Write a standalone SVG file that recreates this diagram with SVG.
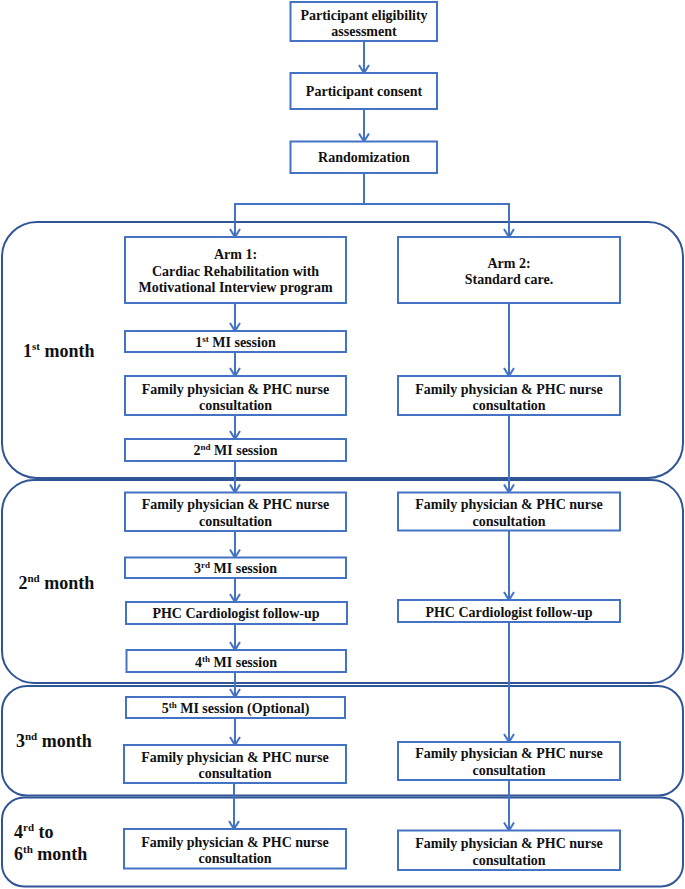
<svg xmlns="http://www.w3.org/2000/svg" width="685" height="889" viewBox="0 0 685 889">
<defs>
<style>
.panel{fill:none;stroke:#2F5597;stroke-width:2}
.box{fill:#fff;stroke:#4472C4;stroke-width:2}
.t{font-family:"Liberation Serif","Times New Roman",serif;font-weight:bold;font-size:14px;fill:#111;text-anchor:middle}
.lbl{font-family:"Liberation Serif","Times New Roman",serif;font-weight:bold;font-size:18px;fill:#111}
.c{fill:none;stroke:#4472C4;stroke-width:2}
.a{marker-end:url(#arr)}
</style>
<marker id="arr" markerUnits="userSpaceOnUse" markerWidth="12" markerHeight="12" viewBox="0 0 12 12" refX="10" refY="6" orient="auto">
<path d="M2,1 L10,6 L2,11" fill="none" stroke="#4472C4" stroke-width="2"/>
</marker>
</defs>
<rect width="685" height="889" fill="#fff"/>

<g id="panels">
<rect id="panel1" class="panel" x="2" y="222" width="681" height="256" rx="35" ry="35"/>
<rect id="panel2" class="panel" x="2" y="480" width="681" height="203" rx="32" ry="32"/>
<rect id="panel3" class="panel" x="2" y="686" width="681" height="109.5" rx="25" ry="25"/>
<rect id="panel4" class="panel" x="2" y="797.5" width="681" height="89" rx="22" ry="22"/>
</g>

<g id="connectors">
<line class="c a" x1="364" y1="41" x2="364" y2="73"/>
<line class="c a" x1="364" y1="109" x2="364" y2="141.5"/>
<polyline class="c" points="364,173 364,204"/>
<polyline class="c a" points="364,204 235,204 235,237"/>
<polyline class="c a" points="364,204 509,204 509,237"/>
<line class="c a" x1="235" y1="303" x2="235" y2="331"/>
<line class="c a" x1="235" y1="352" x2="235" y2="376"/>
<line class="c a" x1="235" y1="415" x2="235" y2="439"/>
<line class="c a" x1="235" y1="461" x2="235" y2="492.5"/>
<line class="c a" x1="235" y1="531" x2="235" y2="557.5"/>
<line class="c a" x1="235" y1="578" x2="235" y2="602"/>
<line class="c a" x1="235" y1="624" x2="235" y2="650"/>
<line class="c a" x1="235" y1="672" x2="235" y2="697"/>
<line class="c a" x1="235" y1="718" x2="235" y2="745"/>
<line class="c a" x1="234" y1="783" x2="234" y2="829"/>
<line class="c a" x1="509" y1="303" x2="509" y2="376"/>
<line class="c a" x1="509" y1="415" x2="509" y2="492.5"/>
<line class="c a" x1="509" y1="531" x2="509" y2="600"/>
<line class="c a" x1="509" y1="622" x2="509" y2="742"/>
<line class="c a" x1="509" y1="780" x2="509" y2="830.5"/>
</g>

<g id="eligibility">
<rect class="box" x="290.5" y="2" width="146.5" height="39"/>
<text class="t" x="364" y="19.5">Participant eligibility</text>
<text class="t" x="364" y="35.5">assessment</text>
</g>
<g id="consent">
<rect class="box" x="290.5" y="73" width="146.5" height="36"/>
<text class="t" x="364" y="96">Participant consent</text>
</g>
<g id="randomization">
<rect class="box" x="290.5" y="141.5" width="146.5" height="31.5"/>
<text class="t" x="364" y="162">Randomization</text>
</g>

<g id="arm1">
<rect class="box" x="125" y="237" width="221" height="66"/>
<text class="t" x="235.5" y="259">Arm 1:</text>
<text class="t" x="235.5" y="275.5">Cardiac Rehabilitation with</text>
<text class="t" x="235.5" y="292">Motivational Interview program</text>
</g>
<g id="arm2">
<rect class="box" x="398" y="237" width="222" height="66"/>
<text class="t" x="509" y="267.5">Arm 2:</text>
<text class="t" x="509" y="284">Standard care.</text>
</g>

<g id="mi1">
<rect class="box" x="125" y="331" width="221" height="21"/>
<text class="t" x="235.5" y="347">1<tspan font-size="9" dy="-5">st</tspan><tspan dy="5"> MI session</tspan></text>
</g>
<g id="fam1a">
<rect class="box" x="125" y="376" width="221" height="39"/>
<text class="t" x="235.5" y="393.5">Family physician &amp; PHC nurse</text>
<text class="t" x="235.5" y="410">consultation</text>
</g>
<g id="fam1b">
<rect class="box" x="398" y="376" width="222" height="39"/>
<text class="t" x="509" y="393.5">Family physician &amp; PHC nurse</text>
<text class="t" x="509" y="410">consultation</text>
</g>
<g id="mi2">
<rect class="box" x="125" y="439" width="221" height="22"/>
<text class="t" x="235.5" y="455">2<tspan font-size="9" dy="-5">nd</tspan><tspan dy="5"> MI session</tspan></text>
</g>

<g id="fam2a">
<rect class="box" x="125" y="492.5" width="221" height="38.5"/>
<text class="t" x="235.5" y="509">Family physician &amp; PHC nurse</text>
<text class="t" x="235.5" y="525.5">consultation</text>
</g>
<g id="fam2b">
<rect class="box" x="398" y="492.5" width="222" height="38"/>
<text class="t" x="509" y="509">Family physician &amp; PHC nurse</text>
<text class="t" x="509" y="525.5">consultation</text>
</g>
<g id="mi3">
<rect class="box" x="125" y="557.5" width="221" height="20.5"/>
<text class="t" x="235.5" y="573">3<tspan font-size="9" dy="-5">rd</tspan><tspan dy="5"> MI session</tspan></text>
</g>
<g id="cardio2a">
<rect class="box" x="126" y="602" width="221" height="22"/>
<text class="t" x="236" y="618">PHC Cardiologist follow-up</text>
</g>
<g id="cardio2b">
<rect class="box" x="398" y="600" width="222" height="22"/>
<text class="t" x="509" y="616.5">PHC Cardiologist follow-up</text>
</g>
<g id="mi4">
<rect class="box" x="126.5" y="650" width="219.5" height="22"/>
<text class="t" x="236" y="666.5">4<tspan font-size="9" dy="-5">th</tspan><tspan dy="5"> MI session</tspan></text>
</g>

<g id="mi5">
<rect class="box" x="126" y="697" width="219" height="21"/>
<text class="t" x="235.5" y="713">5<tspan font-size="9" dy="-5">th</tspan><tspan dy="5"> MI session (Optional)</tspan></text>
</g>
<g id="fam3a">
<rect class="box" x="124" y="745" width="222" height="38"/>
<text class="t" x="235" y="761.5">Family physician &amp; PHC nurse</text>
<text class="t" x="235" y="778">consultation</text>
</g>
<g id="fam3b">
<rect class="box" x="398" y="742" width="222" height="38"/>
<text class="t" x="509" y="758">Family physician &amp; PHC nurse</text>
<text class="t" x="509" y="774.5">consultation</text>
</g>

<g id="fam4a">
<rect class="box" x="124" y="829" width="222" height="39.5"/>
<text class="t" x="235" y="846.5">Family physician &amp; PHC nurse</text>
<text class="t" x="235" y="862.5">consultation</text>
</g>
<g id="fam4b">
<rect class="box" x="398" y="830.5" width="222" height="39.5"/>
<text class="t" x="509" y="848">Family physician &amp; PHC nurse</text>
<text class="t" x="509" y="864.5">consultation</text>
</g>

<g id="labels">
<text class="lbl" x="23" y="357">1<tspan font-size="11" dy="-7">st</tspan><tspan dy="7"> month</tspan></text>
<text class="lbl" x="18.5" y="588.5">2<tspan font-size="11" dy="-7">nd</tspan><tspan dy="7"> month</tspan></text>
<text class="lbl" x="16" y="747">3<tspan font-size="11" dy="-7">nd</tspan><tspan dy="7"> month</tspan></text>
<text class="lbl" x="14" y="838">4<tspan font-size="11" dy="-7">rd</tspan><tspan dy="7"> to</tspan></text>
<text class="lbl" x="14" y="860">6<tspan font-size="11" dy="-7">th</tspan><tspan dy="7"> month</tspan></text>
</g>
</svg>
